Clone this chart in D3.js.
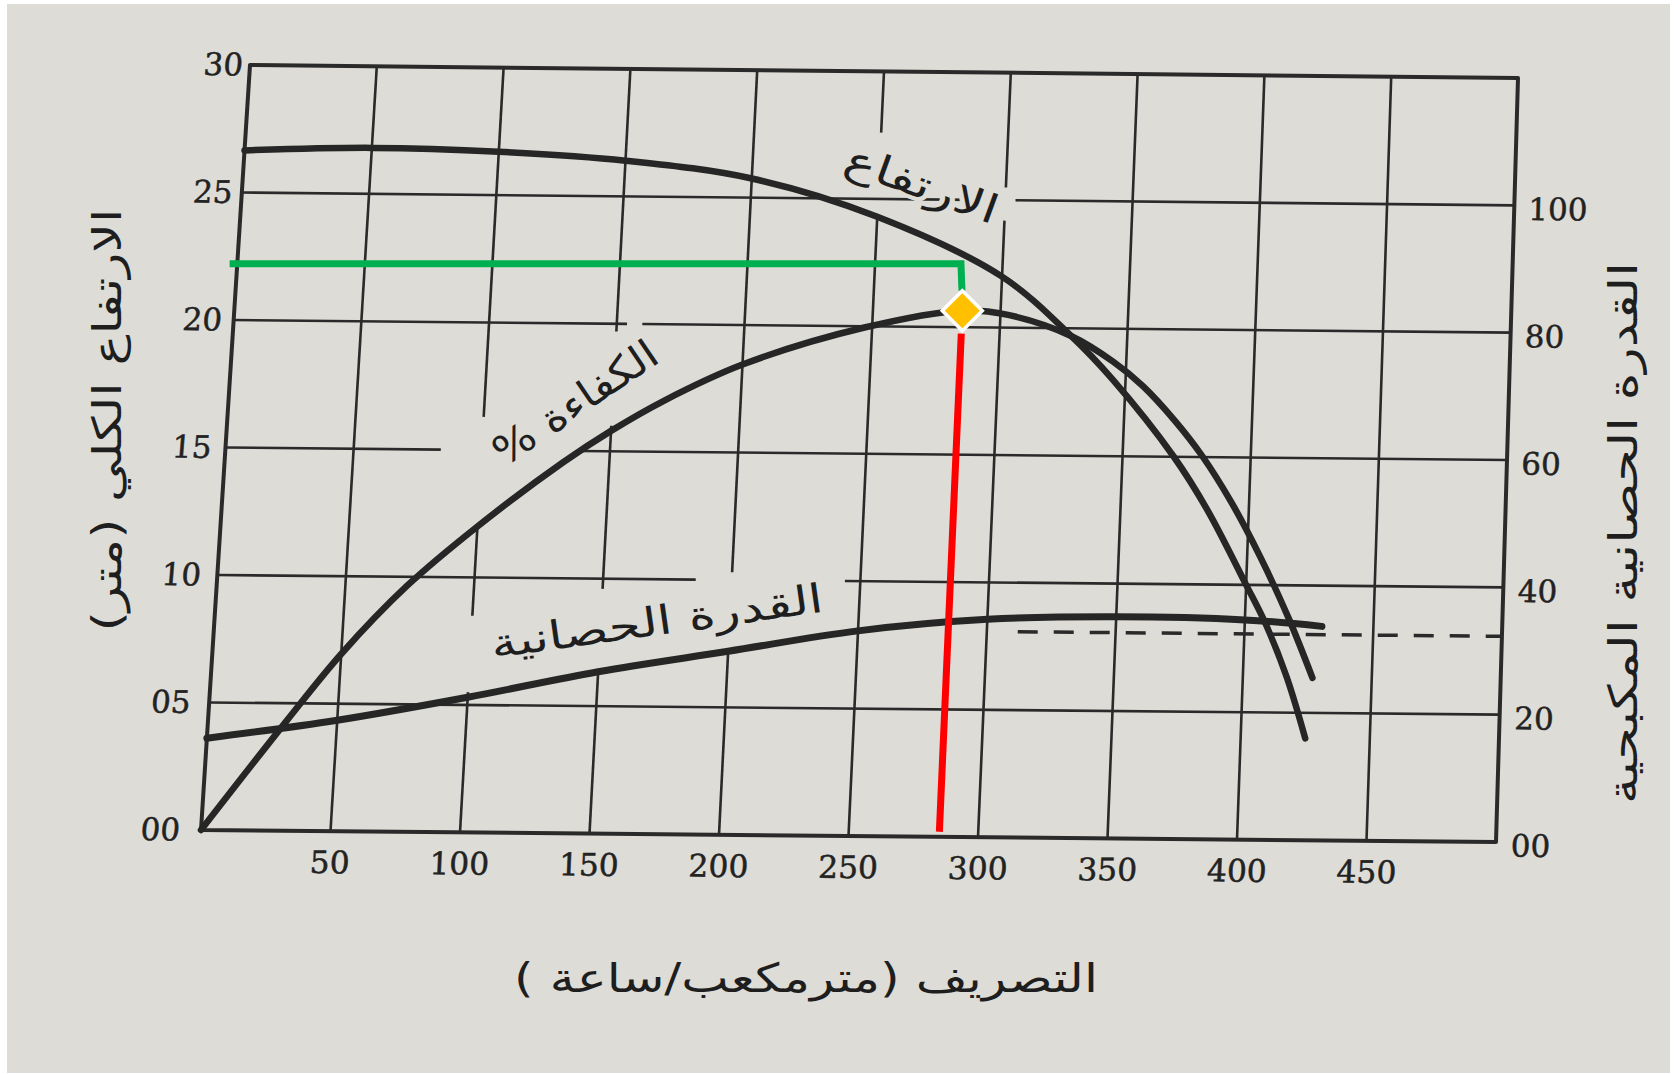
<!DOCTYPE html>
<html>
<head>
<meta charset="utf-8">
<script src="https://cdn.jsdelivr.net/npm/d3@7"></script>
<style>
html,body{margin:0;padding:0;background:#ffffff;}
svg{display:block;}
</style>
</head>
<body>
<svg id="chart" width="1680" height="1074"></svg>
<script>
// ---------------- DATA ----------------
// discharge Q in m3/h
const headQ   = [0, 50, 100, 150, 200, 250, 300, 328, 345, 370, 384, 400, 408, 417, 425];
const headM   = [26.65, 26.8, 26.7, 26.4, 25.75, 24.3, 22.0, 19.7, 18.0, 15.0, 12.9, 10.0, 8.5, 6.4, 4.0];

const effQ    = [0, 30, 50, 74, 100, 132, 150, 170, 200, 247, 285, 303, 328, 345, 357, 370, 381, 393, 405, 417, 427];
const effPct  = [0, 17.0, 27.8, 38.6, 48.0, 58.2, 63.2, 68.0, 73.8, 79.8, 82.6, 82.0, 78.8, 74.8, 71.0, 65.6, 60.2, 53.0, 44.5, 34.8, 25.5];

const powQ    = [0, 50, 100, 150, 200, 250, 300, 350, 400, 430];
const powHp   = [14.4, 17.4, 21.2, 25.4, 28.8, 32.2, 34.2, 34.8, 34.5, 33.6];

const powDashQ  = [312, 500];
const powDashHp = [32.3, 32.3];

// operating point
const opQ = [285];
const opHead = [22.2];
const opEff = [82.6];

// axes
const xTicks = [50, 100, 150, 200, 250, 300, 350, 400, 450];
const xTickLabels = ["50", "100", "150", "200", "250", "300", "350", "400", "450"];
const leftTicks = [0, 5, 10, 15, 20, 25, 30];
const leftTickLabels = ["00", "05", "10", "15", "20", "25", "30"];
const rightTicks = [0, 20, 40, 60, 80, 100];
const rightTickLabels = ["00", "20", "40", "60", "80", "100"];
const hGrid = [5, 10, 15, 20, 25];

const xTitle = "التصريف (مترمكعب/ساعة )";
const yLeftTitle = "الارتفاع الكلي (متر)";
const yRightTitle = "القدرة الحصانية المكبحية";
const headLabel = "الارتفاع";
const effLabel = "الكفاءة %";
const powLabel = "القدرة الحصانية";

// ---------------- LAYOUT / STYLE ----------------
const W = 1680, H = 1074;
const paper = "#dddcd6";
const ink = "#2a2a2a";
const PW = 1282, PH = 764.5;
// corners of the (slightly distorted) scanned plot frame
const C = {tl: [250, 65], tr: [1518, 78], bl: [201, 830], br: [1496, 842]};
const gridGaps = {
  v: {100: [[5.5, 8.5], [12.0, 16.3]], 150: [[6.3, 9.6], [16.0, 19.7]], 200: [[7.2, 10.3]],
      250: [[24.4, 27.6]], 300: [[24.2, 25.5]]},
  h: {15: [[84, 138]], 10: [[186, 244]], 20: [[154, 160]], 25: [[296, 304]]}
};

const svg = d3.select("#chart");
svg.append("rect").attr("width", W).attr("height", H).attr("fill", "#ffffff");
svg.append("rect").attr("x", 7).attr("y", 4).attr("width", 1663).attr("height", 1069).attr("fill", paper);

const x = d3.scaleLinear().domain([0, 500]).range([0, PW]);
const yL = d3.scaleLinear().domain([0, 30]).range([PH, 0]);
const yR = d3.scaleLinear().domain([0, 120]).range([PH, 0]);

// bilinear map from plot (u,v) to page
function P(u, v) {
  const s = u / PW, t = v / PH;
  const f = k => (1 - s) * (1 - t) * C.tl[k] + s * (1 - t) * C.tr[k] + (1 - s) * t * C.bl[k] + s * t * C.br[k];
  return [f(0), f(1)];
}
const pL = (q, h) => P(x(q), yL(h));
const pR = (q, p) => P(x(q), yR(p));

function segments(lo, hi, gaps) {
  const segs = [];
  let s = lo;
  (gaps || []).slice().sort((a, b) => a[0] - b[0]).forEach(([a, b]) => {
    if (a > s) segs.push([s, a]);
    s = Math.max(s, b);
  });
  if (s < hi) segs.push([s, hi]);
  return segs;
}
const straight = d3.line();

// grid
const grid = svg.append("g").attr("stroke", ink).attr("stroke-width", 2.6).attr("fill", "none");
xTicks.forEach(q => {
  segments(0, 30, gridGaps.v[q]).forEach(([a, b]) => {
    grid.append("path").attr("d", straight([pL(q, a), pL(q, b)]));
  });
});
hGrid.forEach(h => {
  segments(0, 500, gridGaps.h[h]).forEach(([a, b]) => {
    grid.append("path").attr("d", straight([pL(a, h), pL(b, h)]));
  });
});
// frame
svg.append("path").attr("d", straight([pL(0, 30), pL(500, 30), pL(500, 0), pL(0, 0)]) + "Z")
  .attr("fill", "none").attr("stroke", ink).attr("stroke-width", 4).attr("stroke-linejoin", "round");

// axes (tick labels), each laid along its own edge of the frame
const numFont = '31px "DejaVu Serif", "Liberation Serif", serif';
const axL = d3.axisLeft(yL).tickValues(leftTicks).tickFormat((d, i) => leftTickLabels[i]).tickSize(0).tickPadding(0);
const axR = d3.axisRight(yR).tickValues(rightTicks).tickFormat((d, i) => rightTickLabels[i]).tickSize(0).tickPadding(14);
const axB = d3.axisBottom(x).tickValues(xTicks).tickFormat((d, i) => xTickLabels[i]).tickSize(0).tickPadding(20);
[
  [axL, "matrix(1,0.0098,-0.0824,1.0007,243,65)", 0],
  [axR, "matrix(1,0.0098,-0.02747,0.99935,1518,78)", 4],
  [axB, "matrix(1.0109,0.00936,-0.045,1,201,830)", 0]
].forEach(([ax, tr, shift]) => {
  const a = svg.append("g").attr("transform", tr).call(ax);
  a.select(".domain").remove();
  a.selectAll("text").style("font", numFont).attr("fill", "#222")
    .attr("stroke", "#222").attr("stroke-width", 0.5)
    .attr("transform", `translate(0,${shift})`);
});

// labels along curves (with paper halo that interrupts the grid)
const arFont = '"DejaVu Sans", "Noto Sans", sans-serif';
function curveLabel(txt, q, h, rot, len, size) {
  const [px, py] = pL(q, h);
  svg.append("text")
    .attr("transform", `translate(${px},${py}) rotate(${rot})`)
    .attr("direction", "rtl")
    .attr("text-anchor", "middle")
    .attr("dy", "0.35em")
    .attr("textLength", len)
    .attr("lengthAdjust", "spacingAndGlyphs")
    .style("font-family", arFont)
    .style("font-size", size + "px")
    .attr("fill", "#1e1e1e")
    .attr("stroke", paper).attr("stroke-width", 8).attr("paint-order", "stroke")
    .text(txt);
}
curveLabel(headLabel, 267, 25.6, 20, 160, 40);
curveLabel(effLabel, 135.4, 16.9, -34, 190, 40);
curveLabel(powLabel, 171.7, 8.36, -8, 335, 40);

// dashed extension of power curve
svg.append("path")
  .attr("d", straight(powDashQ.map((q, i) => pR(q, powDashHp[i]))))
  .attr("fill", "none").attr("stroke", ink).attr("stroke-width", 3.5).attr("stroke-dasharray", "20 16");

// curves
const smooth = d3.line().curve(d3.curveCatmullRom.alpha(0.5));
svg.append("path").attr("d", smooth(powQ.map((q, i) => pR(q, powHp[i]))))
  .attr("fill", "none").attr("stroke", "#262626").attr("stroke-width", 7).attr("stroke-linecap", "round");
svg.append("path").attr("d", smooth(effQ.map((q, i) => pR(q, effPct[i]))))
  .attr("fill", "none").attr("stroke", "#262626").attr("stroke-width", 6.5).attr("stroke-linecap", "round");
svg.append("path").attr("d", smooth(headQ.map((q, i) => pL(q, headM[i]))))
  .attr("fill", "none").attr("stroke", "#262626").attr("stroke-width", 6.5).attr("stroke-linecap", "round");

// operating point annotation
const q0 = opQ[0], h0 = opHead[0], e0 = opEff[0];
const dia = pR(q0, e0);
const gy = pL(-3, h0)[1];
const gxL = pL(-3, h0)[0];
const gxC = pL(q0 - 1.2, h0)[0];
svg.append("path")
  .attr("d", straight([[gxL, gy], [gxC, gy], [gxC + 1, dia[1] - 20]]))
  .attr("fill", "none").attr("stroke", "#00B050").attr("stroke-width", 7).attr("stroke-linejoin", "miter");
svg.append("path")
  .attr("d", straight([pL(q0, 19.75), pL(q0, 0.2)]))
  .attr("fill", "none").attr("stroke", "#FF0000").attr("stroke-width", 7);
svg.append("path")
  .attr("transform", `translate(${dia[0]},${dia[1]})`)
  .attr("d", "M0,-20 L20,0 L0,20 L-20,0 Z")
  .attr("fill", "#FFC000").attr("stroke", "#ffffff").attr("stroke-width", 3.5);

// axis titles
function title(txt, tx, ty, rot, len, size) {
  svg.append("text")
    .attr("transform", `translate(${tx},${ty}) rotate(${rot})`)
    .attr("direction", "rtl")
    .attr("text-anchor", "middle")
    .attr("dy", "0.35em")
    .attr("textLength", len)
    .attr("lengthAdjust", "spacingAndGlyphs")
    .style("font-family", arFont)
    .style("font-size", size + "px")
    .attr("fill", "#1e1e1e")
    .text(txt);
}
title(xTitle, 806, 978, 0, 584, 40);
title(yLeftTitle, 107, 420, -90, 423, 40);
title(yRightTitle, 1623, 533, -90, 542, 40);
</script>
</body>
</html>
